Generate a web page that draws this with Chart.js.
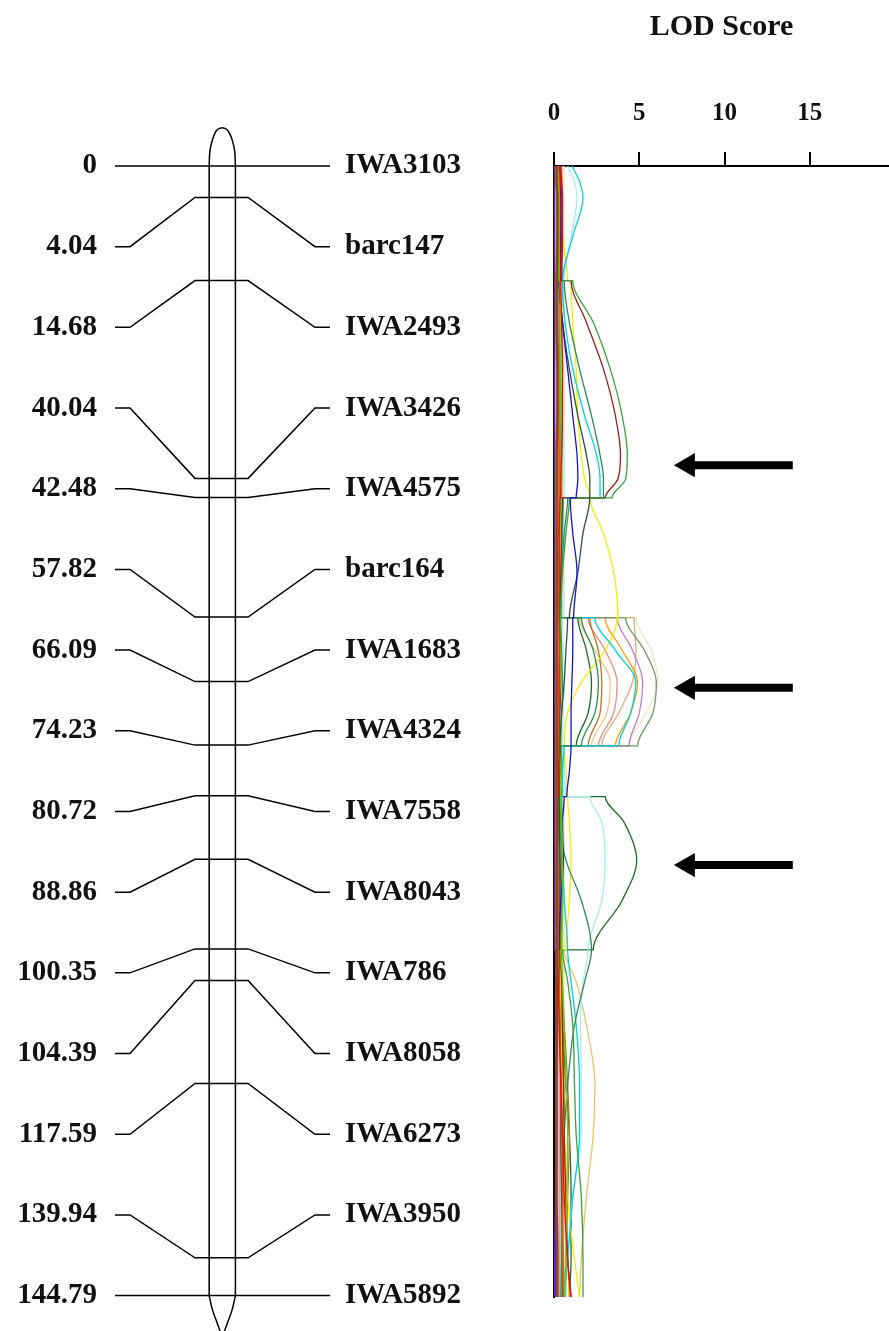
<!DOCTYPE html>
<html>
<head>
<meta charset="utf-8">
<script src="https://cdn.jsdelivr.net/npm/chart.js@4.4.1/dist/chart.umd.min.js"></script>
<style>
html, body { margin: 0; padding: 0; background: #fff; }
#wrap { position: relative; width: 889px; height: 1331px; overflow: hidden; }
#mapChart { position: absolute; left: 0; top: 0; }
#lodChart { position: absolute; left: 540px; top: 0; }
</style>
</head>
<body>
<div id="wrap">
  <canvas id="mapChart" width="540" height="1331"></canvas>
  <canvas id="lodChart" width="349" height="1331"></canvas>
</div>
<script>
// Linkage map markers
var markerNames = ['IWA3103','barc147','IWA2493','IWA3426','IWA4575','barc164','IWA1683',
  'IWA4324','IWA7558','IWA8043','IWA786','IWA8058','IWA6273','IWA3950','IWA5892'];
var markerCm = [0,4.04,14.68,40.04,42.48,57.82,66.09,74.23,80.72,88.86,100.35,104.39,117.59,139.94,144.79];
var cmLabels = ['0','4.04','14.68','40.04','42.48','57.82','66.09','74.23','80.72','88.86',
  '100.35','104.39','117.59','139.94','144.79'];

// LOD curves, read at these positions (a marker is repeated where a new interval starts)
var lodCm = [0,2,4.04,9,14.68, 14.68,20,26,32,37,40.04,42.48, 42.48,47,52,57.82,
  57.82,62,66.09,70,74.23, 74.23,77.5,80.72, 80.72,84,88.86,94,100.35,
  100.35,104.39,110,117.59,124,132,139.94,144.79];

var lodGreen = [0.25,0.3,0.3,0.35,0.4, 1.1,2.3,3.3,4.0,4.3,4.2,3.4, 0.9,0.7,0.5,0.4, 0.4,0.45,0.5,0.45,0.4, 0.4,0.4,0.35, 0.35,0.4,0.45,0.4,0.35, 0.5,0.8,1.1,1.2,1.3,1.6,1.7,1.7];
var lodMaroon = [0.4,0.45,0.5,0.5,0.45, 1.0,1.9,2.9,3.6,3.9,3.75,3.0, 0.5,0.45,0.4,0.35, 0.35,0.4,0.4,0.35,0.3, 0.3,0.3,0.3, 0.3,0.3,0.35,0.4,0.4, 0.4,0.45,0.5,0.55,0.6,0.7,0.8,1.0];
var lodSeaGreen = [0.2,0.2,0.25,0.25,0.3, 0.6,0.9,1.5,2.2,2.7,2.9,2.9, 0.8,0.6,0.45,0.35, 1.6,2.3,2.6,2.4,1.6, 0.4,0.35,0.3, 0.3,0.3,0.7,1.6,2.2, 2.2,1.8,1.2,0.8,0.6,0.5,0.45,0.4];
var lodCyan = [1.05,1.5,1.7,1.1,0.5, 0.5,0.65,1.1,1.8,2.5,2.7,2.7, 0.55,0.5,0.45,0.4, 2.4,3.6,4.8,4.5,3.8, 0.6,0.5,0.5, 0.45,0.45,0.5,0.6,0.8, 0.8,1.0,1.3,1.5,1.5,1.1,0.8,0.6];
var lodPaleCyan = [0.8,1.2,1.35,1.0,0.6, 0.4,0.4,0.45,0.5,0.6,0.6,0.6, 0.5,0.5,0.5,0.5, 0.5,0.55,0.6,0.55,0.5, 0.5,0.6,0.7, 2.1,2.8,3.0,2.8,2.0, 2.0,1.7,1.55,1.6,1.6,1.1,0.8,0.7];
var lodSlate = [0.15,0.15,0.2,0.2,0.25, 0.3,0.5,0.9,1.4,1.9,2.1,2.1, 2.1,1.7,1.4,0.9, 0.8,0.7,0.6,0.45,0.35, 0.35,0.3,0.3, 0.3,0.3,0.3,0.3,0.3, 0.3,0.3,0.35,0.4,0.4,0.45,0.5,0.5];
var lodBlue = [0.35,0.35,0.4,0.4,0.4, 0.3,0.5,0.8,1.1,1.35,1.4,1.3, 0.95,1.1,1.35,1.15, 1.1,1.1,1.05,1.0,1.0, 1.0,0.9,0.75, 0.6,0.5,0.55,0.4,0.3, 0.25,0.2,0.2,0.15,0.15,0.1,0.1,0.1];
var lodYellow = [0.2,0.25,0.3,0.5,0.8, 1.0,1.1,1.3,1.4,1.6,1.8,2.1, 2.1,2.9,3.5,3.75, 3.7,3.0,1.6,0.8,0.6, 0.6,0.7,0.8, 0.8,0.9,1.0,0.9,0.7, 0.5,0.4,0.4,0.5,0.6,0.8,1.2,1.5];
var lodOlive = [0.3,0.3,0.3,0.3,0.3, 0.3,0.3,0.35,0.35,0.4,0.4,0.4, 0.4,0.45,0.5,0.5, 4.2,5.3,6.0,5.8,4.9, 0.5,0.5,0.45, 0.4,0.4,0.4,0.4,0.4, 0.4,0.4,0.45,0.5,0.5,0.5,0.55,0.6];
var lodOrchid = [0.2,0.2,0.2,0.25,0.25, 0.25,0.3,0.3,0.35,0.35,0.35,0.35, 0.3,0.3,0.3,0.3, 3.7,4.6,5.2,5.0,4.4, 0.4,0.35,0.3, 0.3,0.3,0.3,0.3,0.3, 0.3,0.3,0.3,0.3,0.3,0.3,0.3,0.3];
var lodOrange = [0.25,0.25,0.3,0.3,0.3, 0.3,0.3,0.35,0.4,0.4,0.4,0.4, 0.35,0.35,0.35,0.35, 3.0,4.0,4.9,4.5,3.6, 0.4,0.4,0.35, 0.35,0.35,0.4,0.4,0.4, 0.4,0.45,0.5,0.55,0.6,0.7,0.8,0.9];
var lodPeru = [0.3,0.3,0.3,0.3,0.3, 0.3,0.3,0.3,0.3,0.3,0.3,0.3, 0.3,0.3,0.3,0.3, 2.1,2.6,2.8,2.7,2.0, 0.3,0.3,0.3, 0.3,0.3,0.35,0.35,0.35, 0.35,0.4,0.6,0.8,0.9,0.8,0.7,0.6];
var lodDarkGreen = [0.2,0.2,0.2,0.2,0.2, 0.2,0.25,0.25,0.3,0.3,0.3,0.3, 0.3,0.3,0.3,0.3, 1.4,1.9,2.2,2.0,1.3, 0.3,0.3,0.4, 3.0,4.1,4.85,4.0,2.3, 0.3,0.4,0.5,0.7,0.9,1.0,1.0,0.9];
var lodTan = [0.3,0.3,0.35,0.35,0.35, 0.35,0.35,0.4,0.4,0.4,0.4,0.4, 0.4,0.4,0.4,0.4, 4.7,4.8,4.6,3.8,2.8, 0.4,0.4,0.4, 0.4,0.4,0.4,0.4,0.4, 0.4,0.4,0.4,0.4,0.4,0.4,0.4,0.4];
var lodBurly = [0.2,0.2,0.2,0.2,0.2, 0.2,0.2,0.25,0.25,0.25,0.25,0.25, 0.25,0.25,0.25,0.25, 0.3,0.3,0.3,0.3,0.3, 0.3,0.3,0.3, 0.3,0.3,0.35,0.4,0.5, 0.6,1.3,1.9,2.4,2.3,1.9,1.6,1.5];
var lodSalmon = [0.4,0.4,0.4,0.4,0.4, 0.4,0.4,0.4,0.45,0.45,0.45,0.45, 0.45,0.45,0.45,0.45, 2.0,3.0,3.7,3.5,2.6, 0.45,0.45,0.45, 0.45,0.45,0.45,0.5,0.5, 0.5,0.5,0.55,0.6,0.6,0.55,0.5,0.5];
var lodSandy = [0.5,0.5,0.5,0.5,0.5, 0.5,0.5,0.5,0.5,0.5,0.5,0.5, 0.5,0.5,0.5,0.5, 1.5,2.4,3.3,3.1,2.2, 0.5,0.5,0.5, 0.5,0.5,0.5,0.5,0.5, 0.5,0.5,0.5,0.5,0.5,0.5,0.5,0.5];
var lodWheat = [0.6,0.6,0.6,0.6,0.6, 0.6,0.6,0.6,0.6,0.6,0.6,0.6, 0.6,0.6,0.6,0.6, 4.8,5.7,6.1,5.4,4.4, 0.6,0.6,0.6, 0.6,0.6,0.6,0.6,0.6, 0.6,0.6,0.6,0.6,0.6,0.6,0.6,0.6];
var lodRed = [0.35,0.4,0.45,0.45,0.4, 0.4,0.45,0.5,0.5,0.45,0.4,0.4, 0.35,0.3,0.3,0.3, 0.3,0.3,0.3,0.3,0.3, 0.3,0.3,0.3, 0.2,0.2,0.2,0.2,0.2, 0.2,0.25,0.3,0.4,0.5,0.6,0.8,1.0];
var lodLime = [0.2,0.25,0.3,0.3,0.3, 0.35,0.4,0.4,0.45,0.45,0.45,0.4, 0.4,0.35,0.3,0.3, 0.3,0.35,0.35,0.3,0.3, 0.3,0.35,0.4, 0.4,0.45,0.5,0.5,0.45, 0.4,0.5,0.6,0.7,0.8,0.75,0.7,0.65];
var lodOrangeRed = [0.25,0.3,0.3,0.25,0.2, 0.2,0.2,0.25,0.25,0.3,0.3,0.3, 0.3,0.25,0.2,0.2, 0.2,0.2,0.25,0.25,0.2, 0.2,0.2,0.2, 0.2,0.2,0.2,0.25,0.25, 0.25,0.3,0.35,0.4,0.45,0.5,0.5,0.55];
var lodPurple = [0.05,0.05,0.05,0.05,0.05, 0.05,0.05,0.05,0.05,0.05,0.05,0.05, 0.05,0.05,0.05,0.05, 0.05,0.05,0.05,0.05,0.05, 0.05,0.05,0.05, 0.05,0.05,0.05,0.05,0.05, 0.08,0.1,0.1,0.1,0.1,0.08,0.05,0.05];
var lodBrown = [0.15,0.15,0.2,0.2,0.15, 0.15,0.15,0.2,0.2,0.15,0.15,0.15, 0.15,0.15,0.15,0.15, 0.15,0.15,0.15,0.15,0.15, 0.15,0.15,0.15, 0.15,0.15,0.15,0.15,0.15, 0.15,0.15,0.15,0.15,0.15,0.15,0.2,0.2];

var lodTicks = [0, 5, 10, 15];
var arrowCm = [38.3, 66.8, 89.5];

var lodSeries = [lodBrown, lodRed, lodPurple, lodLime, lodOrangeRed, lodBlue, lodSlate, lodGreen,
  lodMaroon, lodSeaGreen, lodCyan, lodPaleCyan, lodYellow, lodOlive, lodOrchid, lodOrange,
  lodPeru, lodDarkGreen, lodTan, lodBurly, lodSalmon, lodSandy, lodWheat];
var lodColors = ['#8b4a13', '#e01010', '#8a2be2', '#66d000', '#ff5000', '#1414c8', '#2f4f4f', '#3aa33a',
  '#9a2020', '#2e8b57', '#00d0e0', '#a8eeee', '#f2ee00', '#6f9a6a', '#c77dc7', '#ff9a00',
  '#b8742a', '#1d6b2a', '#d2b07c', '#e5c46a', '#e8907a', '#f5c890', '#efe3c8'];

var serif = "'Liberation Serif', 'Times New Roman', serif";
var chromLen = markerCm[markerCm.length - 1];

// ---------- linkage map ----------
var mapLine = { showLine: true, borderColor: '#000', borderWidth: 1.5, pointRadius: 0, tension: 0, clip: false };
var mapSets = markerCm.map(function (cm, i) {
  var lab = i * chromLen / (markerCm.length - 1);
  return Object.assign({ data: [
    { x: 0, y: lab }, { x: 7, y: lab }, { x: 37.2, y: cm },
    { x: 61.9, y: cm }, { x: 93, y: lab }, { x: 100, y: lab }
  ] }, mapLine);
});
mapSets.push(Object.assign({ data: [{ x: 43.8, y: 0 }, { x: 43.8, y: chromLen }] }, mapLine));
mapSets.push(Object.assign({ data: [{ x: 56, y: 0 }, { x: 56, y: chromLen }] }, mapLine));
mapSets.push(Object.assign({}, mapLine, { tension: 0.4, data: [
  { x: 43.8, y: 0 }, { x: 44.2, y: -2.05 }, { x: 45.6, y: -3.6 }, { x: 47.4, y: -4.6 },
  { x: 49.9, y: -4.9 }, { x: 52.3, y: -4.6 }, { x: 54.2, y: -3.6 }, { x: 55.6, y: -2.05 }, { x: 56, y: 0 }
] }));
mapSets.push(Object.assign({}, mapLine, { tension: 0.2, data: [
  { x: 43.8, y: chromLen }, { x: 45.2, y: chromLen + 1.7 }, { x: 47.1, y: chromLen + 3.2 },
  { x: 49.9, y: chromLen + 5 }, { x: 52.7, y: chromLen + 3.2 }, { x: 54.6, y: chromLen + 1.7 }, { x: 56, y: chromLen }
] }));

new Chart(document.getElementById('mapChart'), {
  type: 'scatter',
  data: { datasets: mapSets },
  options: {
    responsive: false,
    animation: false,
    layout: { autoPadding: false, padding: { top: 166, bottom: 34, left: 0, right: 0 } },
    plugins: { legend: { display: false }, tooltip: { enabled: false } },
    scales: {
      x: { type: 'linear', min: 0, max: 100, display: false },
      y: { type: 'linear', min: 0, max: chromLen, reverse: true, display: false },
      yL: {
        type: 'category', position: 'left', labels: cmLabels, offset: false,
        grid: { display: false, drawTicks: false }, border: { display: false },
        ticks: { font: { family: serif, size: 29, weight: 'bold' }, color: '#111', padding: 18, autoSkip: false },
        afterFit: function (s) { s.width = 115; }
      },
      yR: {
        type: 'category', position: 'right', labels: markerNames, offset: false,
        grid: { display: false, drawTicks: false }, border: { display: false },
        ticks: { font: { family: serif, size: 29, weight: 'bold' }, color: '#111', padding: 15, autoSkip: false },
        afterFit: function (s) { s.width = 210; }
      }
    }
  }
});

// ---------- LOD profile ----------
var lodSets = lodSeries.map(function (vals, k) {
  return {
    data: vals.map(function (v, i) { return { x: v, y: lodCm[i] }; }),
    borderColor: lodColors[k],
    borderWidth: k === 0 ? 2.6 : 1.3,
    pointRadius: 0,
    fill: false,
    cubicInterpolationMode: 'monotone'
  };
});
arrowCm.forEach(function (cm) {
  lodSets.unshift({
    data: [{ x: 7.85, y: cm }, { x: 14.0, y: cm }],
    borderColor: '#000',
    borderWidth: 8,
    borderCapStyle: 'butt',
    tension: 0,
    pointRadius: [14, 0],
    pointStyle: 'triangle',
    rotation: 270,
    pointBackgroundColor: '#000',
    pointBorderColor: '#000',
    pointBorderWidth: 0,
    fill: false
  });
});

new Chart(document.getElementById('lodChart'), {
  type: 'line',
  data: { datasets: lodSets },
  options: {
    responsive: false,
    animation: false,
    indexAxis: 'y',
    layout: { autoPadding: false, padding: { top: 0, bottom: 34, left: 14, right: 0 } },
    plugins: {
      legend: { display: false },
      tooltip: { enabled: false },
      title: {
        display: true, text: 'LOD Score', color: '#111',
        font: { family: serif, size: 30, weight: 'bold' },
        padding: { top: 9, bottom: 21 }
      }
    },
    scales: {
      x: {
        type: 'linear', position: 'top', min: 0, max: 19.64,
        afterBuildTicks: function (s) { s.ticks = lodTicks.map(function (v) { return { value: v }; }); },
        ticks: {
          font: { family: serif, size: 25, weight: 'bold', lineHeight: 1.0 }, color: '#111', padding: 1, maxRotation: 0,
          callback: function (v) { return [String(v), '']; }
        },
        grid: { drawOnChartArea: false, drawTicks: true, tickLength: 14, color: '#000', lineWidth: 2 },
        border: { display: true, color: '#000', width: 2 },
        afterFit: function (s) { s.height = 100; }
      },
      y: {
        type: 'linear', min: 0, max: chromLen, reverse: true,
        ticks: { display: false },
        grid: { display: false, drawTicks: false },
        border: { display: true, color: '#000', width: 2 },
        afterFit: function (s) { s.width = 0; }
      }
    }
  }
});
</script>
</body>
</html>
